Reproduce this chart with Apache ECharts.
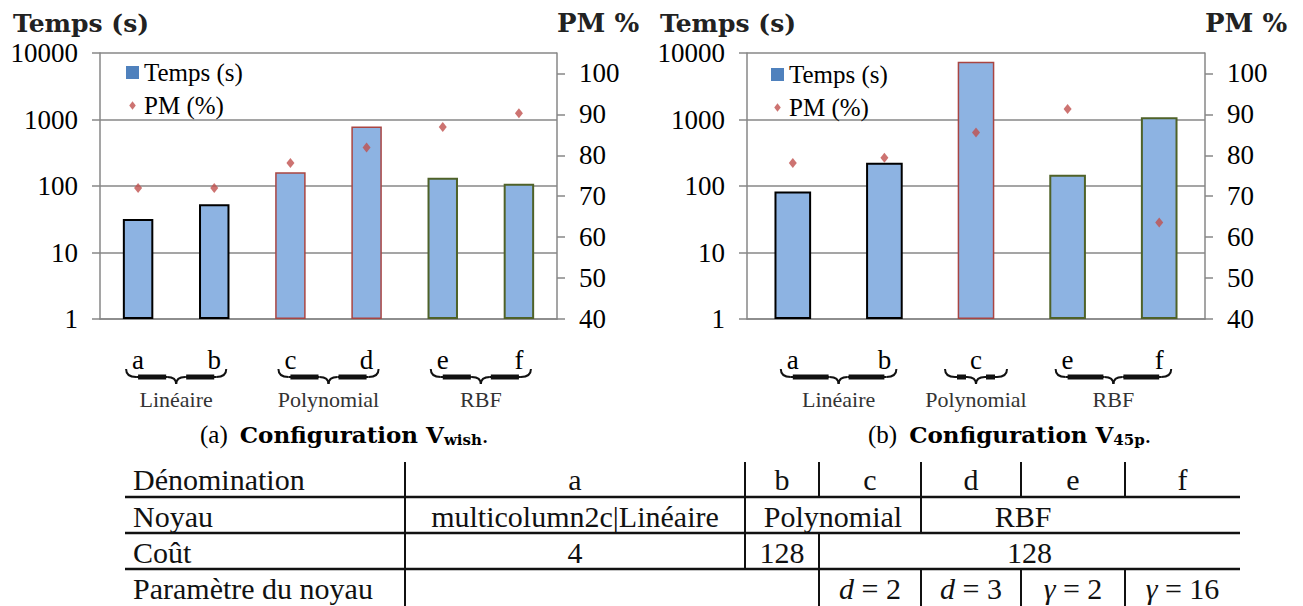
<!DOCTYPE html>
<html>
<head>
<meta charset="utf-8">
<script src="https://cdn.jsdelivr.net/npm/echarts@6/dist/echarts.min.js"></script>
<style>
  html, body { margin: 0; padding: 0; background: #fff; }
  #main { width: 1303px; height: 606px; }
</style>
</head>
<body>
<div id="main"></div>
<script>
// (a) Configuration V_wish
var catsA = ['a', 'b', 'c', 'd', 'e', 'f'];
var kernelA = ['Linéaire', 'Linéaire', 'Polynomial', 'Polynomial', 'RBF', 'RBF'];
var tempsA = [32, 53, 161, 783, 133, 108];
var pmA = [72, 72, 78.1, 81.9, 86.9, 90.3];

// (b) Configuration V_45p
var catsB = ['a', 'b', 'c', 'e', 'f'];
var kernelB = ['Linéaire', 'Linéaire', 'Polynomial', 'RBF', 'RBF'];
var tempsB = [83, 224, 7400, 148, 1080];
var pmB = [78.1, 79.4, 85.6, 91.3, 63.6];

var pmTicks = [40, 50, 60, 70, 80, 90, 100];

// tableau sous les graphes
var tableRows = [
  ['Dénomination', 'a', 'b', 'c', 'd', 'e', 'f'],
  ['Noyau', 'multicolumn2c|Linéaire', 'Polynomial', 'RBF'],
  ['Coût', '4', '128', '128'],
  ['Paramètre du noyau', '', 'd = 2', 'd = 3', 'γ = 2', 'γ = 16']
];
var tableSpans = [
  [1, 1, 1, 1, 1, 1, 1],
  [1, 1, 2, 2],
  [1, 1, 1, 4],
  [1, 2, 1, 1, 1, 1]
];

var GRAY = '#878787';
var SERIF = 'Liberation Serif, serif';
var BOLD = 'DejaVu Serif, serif';
var borderByKernel = {
  'Linéaire': ['#000000', 2],
  'Polynomial': ['#a94542', 1.5],
  'RBF': ['#4f6228', 2]
};
var diamondIcon = 'path://M0,0M14,14M7,2.5L10.5,7L7,11.5L3.5,7Z';

var chart = echarts.init(document.getElementById('main'), null, { renderer: 'svg' });

function barData(vals, kernels) {
  return vals.map(function (v, i) {
    var b = borderByKernel[kernels[i]];
    return { value: v, itemStyle: { borderColor: b[0], borderWidth: b[1] } };
  });
}

function xAx(gi, cats) {
  return {
    gridIndex: gi, type: 'category', data: cats,
    axisLine: { lineStyle: { color: GRAY, width: 1.5 } },
    axisTick: { length: 8, lineStyle: { color: GRAY, width: 1.5 } },
    axisLabel: { margin: 27, fontSize: 27, color: '#000', fontFamily: SERIF }
  };
}

function yLog(gi) {
  return {
    gridIndex: gi, type: 'log', logBase: 10, min: 1, max: 10000, position: 'left',
    name: 'Temps (s)', nameLocation: 'end', nameGap: 17, nameMoveOverlap: false,
    nameTextStyle: { fontSize: 25, fontWeight: 'bold', fontFamily: BOLD, color: '#222',
      align: 'center', padding: [0, 38, 0, 0] },
    axisLine: { show: true, lineStyle: { color: GRAY, width: 1.5 } },
    axisTick: { show: true, length: 8, lineStyle: { color: GRAY, width: 1.5 } },
    axisLabel: { margin: 22, fontSize: 27, color: '#000', fontFamily: SERIF,
      formatter: function (v) { return String(Math.round(v)); } },
    splitLine: { show: true, lineStyle: { color: GRAY, width: 1.5 } },
    minorTick: { show: false }
  };
}

function yPm(gi) {
  return {
    gridIndex: gi, type: 'value', min: 40, max: 105, position: 'right',
    name: 'PM %', nameLocation: 'end', nameGap: 17, nameMoveOverlap: false,
    nameTextStyle: { fontSize: 26, fontWeight: 'bold', fontFamily: BOLD, color: '#222',
      align: 'left', padding: [0, 0, 0, 0] },
    axisLine: { show: true, lineStyle: { color: GRAY, width: 1.5 } },
    axisTick: { show: true, length: 8, customValues: pmTicks, lineStyle: { color: GRAY, width: 1.5 } },
    axisLabel: { margin: 22, fontSize: 27, color: '#000', fontFamily: SERIF, customValues: pmTicks },
    splitLine: { show: false }
  };
}

function legendAt(left, top) {
  return {
    left: left, top: top, orient: 'vertical', selectedMode: false,
    itemWidth: 13, itemHeight: 13, itemGap: 8,
    textStyle: { fontSize: 25, lineHeight: 24, color: '#000', fontFamily: SERIF },
    data: [
      { name: 'Temps (s)', icon: 'rect', itemStyle: { color: '#4f81bd', borderWidth: 0 } },
      { name: 'PM (%)', icon: diamondIcon, itemStyle: { color: '#c0504d' } }
    ]
  };
}

var captionRich = {
  n: { fontSize: 25, fontWeight: 'normal', fontFamily: SERIF, color: '#000' },
  b: { fontSize: 23, fontWeight: 'bold', fontFamily: BOLD, color: '#000', padding: [0, 0, 0, 12] },
  s: { fontSize: 15, fontWeight: 'bold', fontFamily: BOLD, color: '#000', padding: [10, 0, 0, 0] }
};

var option = {
  animation: false,
  backgroundColor: '#fff',
  title: [
    { text: '{n|(a)}{b|Configuration V}{s|wish}{n|.}', left: 200, top: 422, padding: 0,
      textStyle: { fontFamily: SERIF, rich: captionRich } },
    { text: '{n|(b)}{b|Configuration V}{s|45p}{n|.}', left: 868, top: 422, padding: 0,
      textStyle: { fontFamily: SERIF, rich: captionRich } }
  ],
  legend: [legendAt(121, 55), legendAt(766, 57)],
  grid: [
    { left: 100, top: 53, width: 457, height: 266 },
    { left: 747, top: 53, width: 458, height: 266 }
  ],
  xAxis: [xAx(0, catsA), xAx(1, catsB)],
  yAxis: [yLog(0), yPm(0), yLog(1), yPm(1)],
  series: [
    { name: 'Temps (s)', type: 'bar', xAxisIndex: 0, yAxisIndex: 0, barWidth: '40%',
      itemStyle: { color: '#8db3e2' }, data: barData(tempsA, kernelA) },
    { name: 'PM (%)', type: 'scatter', xAxisIndex: 0, yAxisIndex: 1, symbol: 'diamond',
      symbolSize: [8, 10], itemStyle: { color: '#c0504d' }, data: pmA },
    { name: 'Temps (s)', type: 'bar', xAxisIndex: 1, yAxisIndex: 2, barWidth: '40%',
      itemStyle: { color: '#8db3e2' }, data: barData(tempsB, kernelB) },
    { name: 'PM (%)', type: 'scatter', xAxisIndex: 1, yAxisIndex: 3, symbol: 'diamond',
      symbolSize: [8, 10], itemStyle: { color: '#c0504d' }, data: pmB }
  ]
};
chart.setOption(option);

// accolades + noms des noyaux sous les axes
function runs(kernels) {
  var out = [];
  kernels.forEach(function (k, i) {
    var last = out[out.length - 1];
    if (last && last.name === k) last.to = i;
    else out.push({ name: k, from: i, to: i });
  });
  return out;
}

function brace(l, r, y) {
  var m = (l + r) / 2, yb = y + 8, yt = y + 15;
  var thin = { stroke: '#111', fill: 'none', lineWidth: 2 };
  var thick = { stroke: '#111', lineWidth: 5 };
  return [
    { type: 'bezierCurve', shape: { x1: l, y1: y, cpx1: l, cpy1: yb, x2: l + 10, y2: yb }, style: thin },
    { type: 'line', shape: { x1: l + 10, y1: yb, x2: m - 9, y2: yb }, style: thin },
    { type: 'bezierCurve', shape: { x1: m - 9, y1: yb, cpx1: m, cpy1: yb, x2: m, y2: yt }, style: thin },
    { type: 'bezierCurve', shape: { x1: m, y1: yt, cpx1: m, cpy1: yb, x2: m + 9, y2: yb }, style: thin },
    { type: 'line', shape: { x1: m + 9, y1: yb, x2: r - 10, y2: yb }, style: thin },
    { type: 'bezierCurve', shape: { x1: r - 10, y1: yb, cpx1: r, cpy1: yb, x2: r, y2: y }, style: thin },
    { type: 'line', shape: { x1: l + 12, y1: yb, x2: m - 10, y2: yb }, style: thick },
    { type: 'line', shape: { x1: m + 10, y1: yb, x2: r - 12, y2: yb }, style: thick }
  ];
}

function decor(xi, cats, kernels) {
  var out = [];
  runs(kernels).forEach(function (g) {
    var x0 = chart.convertToPixel({ xAxisIndex: xi }, cats[g.from]);
    var x1 = chart.convertToPixel({ xAxisIndex: xi }, cats[g.to]);
    var mid = (x0 + x1) / 2;
    var half = Math.max((x1 - x0) / 2 + 12, 31);
    out = out.concat(brace(mid - half, mid + half, 369));
    out.push({ type: 'text', style: { text: g.name, x: mid, y: 399, align: 'center', verticalAlign: 'middle',
      fontSize: 22, fontFamily: SERIF, fill: '#333' } });
  });
  return out;
}

// tableau
var colX = [125, 405, 745, 819, 921, 1021, 1125, 1240];
var rowY = [460, 497, 533, 569, 606];

function cellText(s) {
  var m = /^(\S) = (.+)$/.exec(s);
  return m ? '{i|' + m[1] + '}{r| = ' + m[2] + '}' : '{r|' + s + '}';
}

function table() {
  var out = [];
  [1, 2, 3].forEach(function (r) {
    out.push({ type: 'line', shape: { x1: colX[0], y1: rowY[r], x2: colX[7], y2: rowY[r] },
      style: { stroke: '#111', lineWidth: 2.5 } });
  });
  tableRows.forEach(function (row, r) {
    var c = 0;
    row.forEach(function (txt, k) {
      var span = tableSpans[r][k];
      var xa = colX[c], xb = colX[c + span];
      if (k > 0) {
        out.push({ type: 'line', shape: { x1: xa, y1: rowY[r] + (r === 0 ? 2 : 0), x2: xa, y2: rowY[r + 1] },
          style: { stroke: '#111', lineWidth: 2 } });
      }
      if (txt) {
        out.push({ type: 'text', style: {
          text: cellText(txt), x: k === 0 ? xa + 8 : (xa + xb) / 2, y: (rowY[r] + rowY[r + 1]) / 2 + 1,
          align: k === 0 ? 'left' : 'center', verticalAlign: 'middle',
          fontSize: 30, fontFamily: SERIF, fill: '#111',
          rich: {
            r: { fontSize: 30, fontFamily: SERIF, fill: '#111' },
            i: { fontSize: 30, fontFamily: SERIF, fontStyle: 'italic', fill: '#111' }
          }
        } });
      }
      c += span;
    });
  });
  return out;
}

chart.setOption({
  graphic: decor(0, catsA, kernelA).concat(decor(1, catsB, kernelB)).concat(table())
});
</script>
</body>
</html>
